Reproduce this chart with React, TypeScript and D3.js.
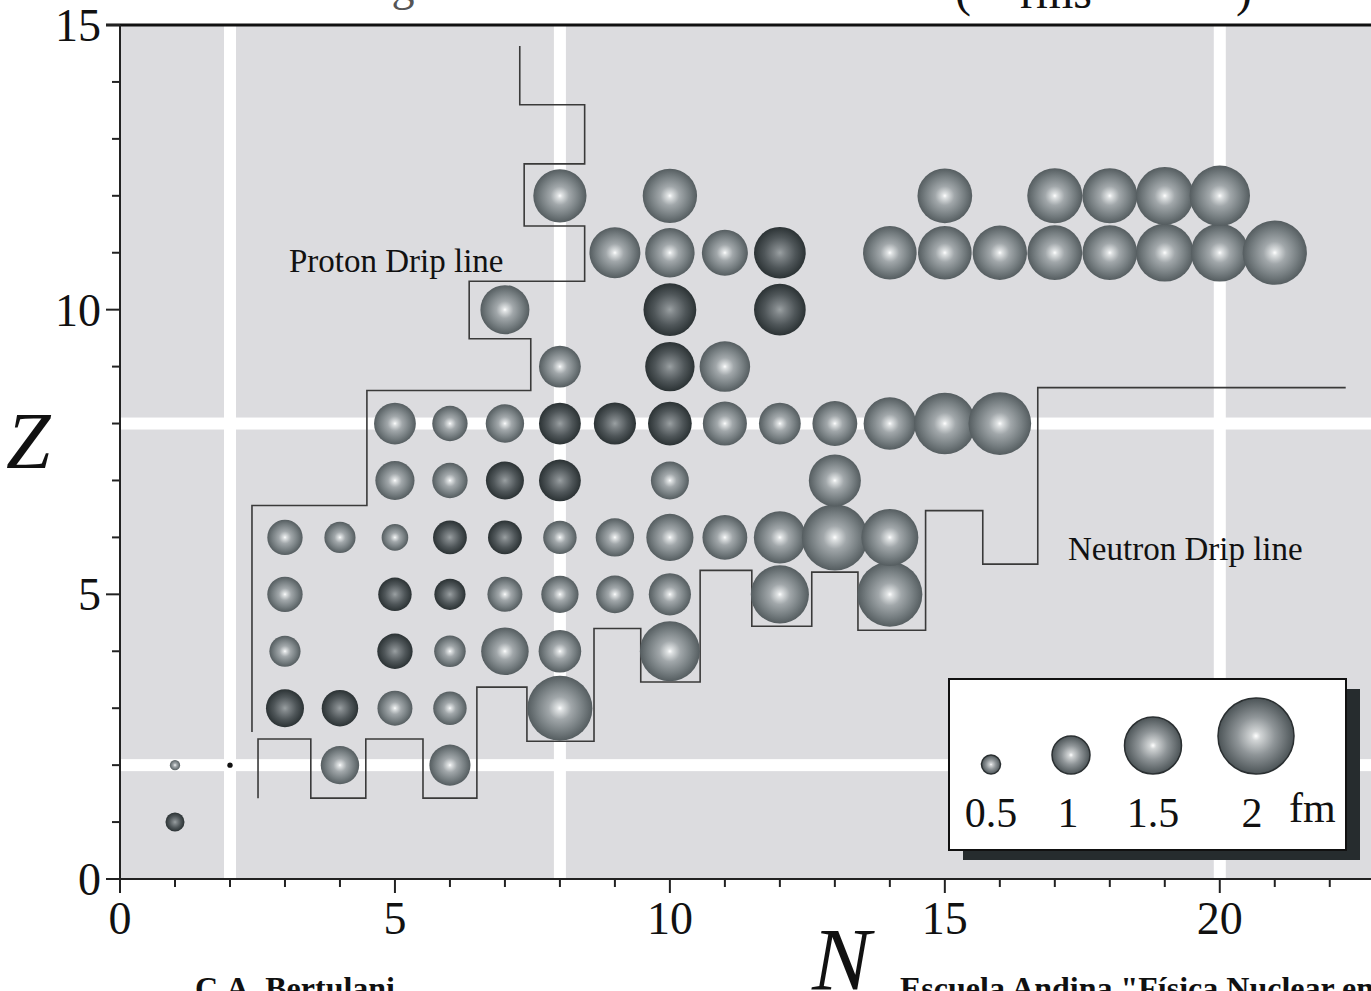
import React from "react";
import * as d3 from "d3";

const W = 1371;
const H = 991;

// Nuclides by proton number Z: [neutron number N, rms matter radius (fm)]
const rowZ1: [number, number][] = [[1, 0.5]];
const rowZ2: [number, number][] = [[1, 0.27], [2, 0.14], [4, 1.01], [6, 1.08]];
const rowZ3: [number, number][] = [[3, 1.0], [4, 0.96], [5, 0.92], [6, 0.88], [8, 1.71]];
const rowZ4: [number, number][] = [[3, 0.82], [5, 0.93], [6, 0.83], [7, 1.25], [8, 1.12], [10, 1.58]];
const rowZ5: [number, number][] = [[3, 0.93], [5, 0.88], [6, 0.82], [7, 0.92], [8, 0.98], [9, 0.99], [10, 1.11], [12, 1.53], [14, 1.71]];
const rowZ6: [number, number][] = [[3, 0.93], [4, 0.82], [5, 0.7], [6, 0.89], [7, 0.89], [8, 0.88], [9, 1.01], [10, 1.24], [11, 1.18], [12, 1.37], [13, 1.74], [14, 1.5]];
const rowZ7: [number, number][] = [[5, 1.03], [6, 0.93], [7, 1.0], [8, 1.1], [10, 1.0], [13, 1.37]];
const rowZ8: [number, number][] = [[5, 1.1], [6, 0.93], [7, 1.01], [8, 1.1], [9, 1.11], [10, 1.15], [11, 1.16], [12, 1.1], [13, 1.18], [14, 1.38], [15, 1.62], [16, 1.65]];
const rowZ9: [number, number][] = [[8, 1.1], [10, 1.3], [11, 1.33]];
const rowZ10: [number, number][] = [[7, 1.29], [10, 1.39], [12, 1.36]];
const rowZ11: [number, number][] = [[9, 1.34], [10, 1.3], [11, 1.21], [12, 1.36], [14, 1.41], [15, 1.41], [16, 1.43], [17, 1.44], [18, 1.44], [19, 1.52], [20, 1.52], [21, 1.69]];
const rowZ12: [number, number][] = [[8, 1.4], [10, 1.43], [15, 1.44], [17, 1.45], [18, 1.45], [19, 1.52], [20, 1.59]];

const rows: [number, [number, number][]][] = [
  [1, rowZ1], [2, rowZ2], [3, rowZ3], [4, rowZ4], [5, rowZ5], [6, rowZ6],
  [7, rowZ7], [8, rowZ8], [9, rowZ9], [10, rowZ10], [11, rowZ11], [12, rowZ12],
];

// Nuclides drawn in the dark shade, as "N-Z"
const darkNuclei = [
  "1-1", "2-2", "3-3", "4-3", "5-4", "5-5", "6-5", "6-6", "7-6",
  "7-7", "8-7", "8-8", "9-8", "10-8", "10-9", "10-10", "12-10", "12-11",
];

// Drip line vertices [N, Z]
const protonDrip: [number, number][] = [
  [7.27, 14.63], [7.27, 13.6], [8.45, 13.6], [8.45, 12.56], [7.35, 12.56],
  [7.35, 11.47], [8.45, 11.47], [8.45, 10.5], [6.35, 10.5], [6.35, 9.49],
  [7.47, 9.49], [7.47, 8.58], [4.49, 8.58], [4.49, 6.56], [2.4, 6.56], [2.4, 2.58],
];
const neutronDrip: [number, number][] = [
  [2.51, 1.42], [2.51, 2.46], [3.47, 2.46], [3.47, 1.42], [4.47, 1.42], [4.47, 2.46],
  [5.51, 2.46], [5.51, 1.42], [6.49, 1.42], [6.49, 3.37], [7.4, 3.37], [7.4, 2.42],
  [8.62, 2.42], [8.62, 4.4], [9.47, 4.4], [9.47, 3.46], [10.55, 3.46], [10.55, 5.42],
  [11.49, 5.42], [11.49, 4.44], [12.58, 4.44], [12.58, 5.39], [13.42, 5.39], [13.42, 4.37],
  [14.65, 4.37], [14.65, 6.47], [15.69, 6.47], [15.69, 5.53], [16.69, 5.53], [16.69, 8.63],
  [22.29, 8.63],
];

// Magic numbers marked by white guide lines
const magicN = [2, 8, 20];
const magicZ = [2, 8];

const xTickLabels = [0, 5, 10, 15, 20];
const yTickLabels = [0, 5, 10, 15];
const legendRadii = [0.5, 1, 1.5, 2];
const legendCenters = [991, 1071, 1153, 1256];

const SERIF = "'Liberation Serif', 'Times New Roman', serif";

export default function App() {
  const x = d3.scaleLinear().domain([0, 22.75]).range([120, 1371]);
  const y = d3.scaleLinear().domain([0, 15]).range([879, 25]);
  const r = d3.scaleLinear().domain([0, 2]).range([0, 38]);

  const x0 = x(0);
  const y0 = y(0);
  const yTop = y(15);

  const line = d3
    .line<[number, number]>()
    .x((d) => x(d[0]))
    .y((d) => y(d[1]))
    .curve(d3.curveLinear);

  const xTicks = d3.range(0, 23);
  const yTicks = d3.range(0, 16);
  const darkSet = new Set(darkNuclei);

  const nuclei = rows.flatMap(([z, list]) =>
    list.map(([n, rad]) => ({ n, z, rad, dark: darkSet.has(`${n}-${z}`) }))
  );

  // legend box geometry
  const lg = { x: 949, y: 679, w: 397, h: 171 };
  const legendBase = 774;

  return (
    <svg
      width={W}
      height={H}
      viewBox={`0 0 ${W} ${H}`}
      style={{ position: "absolute", left: 0, top: 0, background: "#ffffff" }}
    >
      <defs>
        <radialGradient id="ballLight" cx="50%" cy="50%" r="50%">
          <stop offset="0" stopColor="#ffffff" />
          <stop offset="0.08" stopColor="#e0e3e4" />
          <stop offset="0.35" stopColor="#a1a7aa" />
          <stop offset="0.72" stopColor="#767e81" />
          <stop offset="1" stopColor="#555d60" />
        </radialGradient>
        <radialGradient id="ballDark" cx="50%" cy="50%" r="50%">
          <stop offset="0" stopColor="#9aa0a2" />
          <stop offset="0.2" stopColor="#7e8487" />
          <stop offset="0.6" stopColor="#4f5659" />
          <stop offset="1" stopColor="#2b3234" />
        </radialGradient>
        <radialGradient id="ballLegend" cx="50%" cy="50%" r="50%">
          <stop offset="0" stopColor="#ffffff" />
          <stop offset="0.12" stopColor="#d2d5d6" />
          <stop offset="0.5" stopColor="#8f9598" />
          <stop offset="1" stopColor="#4c5457" />
        </radialGradient>
        <clipPath id="plotClip">
          <rect x={x0} y={yTop} width={W - x0} height={y0 - yTop} />
        </clipPath>
      </defs>

      {/* title, cropped at the top edge */}
      <text x={205} y={0} fontFamily={SERIF} fontSize={46} fill="#555">
        Radii of light nuclei
      </text>
      <text x={955} y={6} fontFamily={SERIF} fontSize={48} fill="#111">
        (
      </text>
      <text x={1020} y={8} fontFamily={SERIF} fontSize={48} fill="#111">
        rms
      </text>
      <text x={1236} y={6} fontFamily={SERIF} fontSize={48} fill="#111">
        )
      </text>

      {/* plot background */}
      <rect x={x0} y={yTop} width={W - x0} height={y0 - yTop} fill="#dcdcdf" />

      {/* magic number guide lines */}
      <g clipPath="url(#plotClip)">
        {magicN.map((n) => (
          <rect key={`gn${n}`} x={x(n) - 6} y={yTop} width={12} height={y0 - yTop} fill="#ffffff" />
        ))}
        {magicZ.map((z) => (
          <rect key={`gz${z}`} x={x0} y={y(z) - 6} width={W - x0} height={12} fill="#ffffff" />
        ))}
      </g>

      {/* drip lines */}
      <path d={line(protonDrip) ?? ""} fill="none" stroke="#3a3a3a" strokeWidth={1.6} />
      <path d={line(neutronDrip) ?? ""} fill="none" stroke="#3a3a3a" strokeWidth={1.6} />

      {/* nuclei */}
      <g>
        {nuclei.map((d) => (
          <circle
            key={`${d.n}-${d.z}`}
            cx={x(d.n)}
            cy={y(d.z)}
            r={r(d.rad)}
            fill={d.n === 2 && d.z === 2 ? "#111" : d.dark ? "url(#ballDark)" : "url(#ballLight)"}
          />
        ))}
      </g>

      <text x={289} y={272} fontFamily={SERIF} fontSize={33} fill="#111">
        Proton Drip line
      </text>
      <text x={1068} y={560} fontFamily={SERIF} fontSize={33} fill="#111">
        Neutron Drip line
      </text>

      {/* axes frame */}
      <line x1={x0 - 14} y1={yTop} x2={W} y2={yTop} stroke="#111" strokeWidth={3} />
      <line x1={x0} y1={yTop} x2={x0} y2={y0 + 14} stroke="#222" strokeWidth={2} />
      <line x1={x0 - 14} y1={y0} x2={W} y2={y0} stroke="#222" strokeWidth={2} />

      {xTicks.map((t) => (
        <line
          key={`xt${t}`}
          x1={x(t)}
          x2={x(t)}
          y1={y0}
          y2={y0 + (t % 5 === 0 ? 14 : 8)}
          stroke="#222"
          strokeWidth={2}
        />
      ))}
      {yTicks.map((t) => (
        <line
          key={`yt${t}`}
          x1={x0}
          x2={x0 - (t % 5 === 0 ? 14 : 8)}
          y1={y(t)}
          y2={y(t)}
          stroke="#222"
          strokeWidth={2}
        />
      ))}
      {xTickLabels.map((t) => (
        <text
          key={`xl${t}`}
          x={x(t)}
          y={y0 + 55}
          textAnchor="middle"
          fontFamily={SERIF}
          fontSize={46}
          fill="#111"
        >
          {t}
        </text>
      ))}
      {yTickLabels.map((t) => (
        <text
          key={`yl${t}`}
          x={x0 - 19}
          y={y(t) + 16}
          textAnchor="end"
          fontFamily={SERIF}
          fontSize={46}
          fill="#111"
        >
          {t}
        </text>
      ))}

      {/* axis titles */}
      <text x={6} y={468} fontFamily={SERIF} fontStyle="italic" fontSize={80} fill="#111">
        Z
      </text>
      <text x={812} y={989} fontFamily={SERIF} fontStyle="italic" fontSize={88} fill="#111">
        N
      </text>

      {/* credits */}
      <text x={195} y={999} fontFamily={SERIF} fontWeight="bold" fontSize={32} fill="#111">
        C.A. Bertulani
      </text>
      <text x={900} y={999} fontFamily={SERIF} fontWeight="bold" fontSize={32} fill="#111">
        Escuela Andina "Física Nuclear en el Laboratorio"
      </text>

      {/* size legend */}
      <rect x={lg.x + 14} y={lg.y + 10} width={lg.w} height={lg.h} fill="#262c2e" />
      <rect x={lg.x} y={lg.y} width={lg.w} height={lg.h} fill="#ffffff" stroke="#111" strokeWidth={2} />
      {legendRadii.map((v, i) => (
        <g key={`lg${v}`}>
          <circle
            cx={legendCenters[i]}
            cy={legendBase - r(v)}
            r={r(v)}
            fill="url(#ballLegend)"
            stroke="#2a2f31"
            strokeWidth={1.5}
          />
          <text
            x={legendCenters[i] + (i === 3 ? -4 : i === 1 ? -3 : 0)}
            y={827}
            textAnchor="middle"
            fontFamily={SERIF}
            fontSize={42}
            fill="#111"
          >
            {v}
          </text>
        </g>
      ))}
      <text x={1289} y={822} fontFamily={SERIF} fontSize={42} fill="#111">
        fm
      </text>
    </svg>
  );
}
